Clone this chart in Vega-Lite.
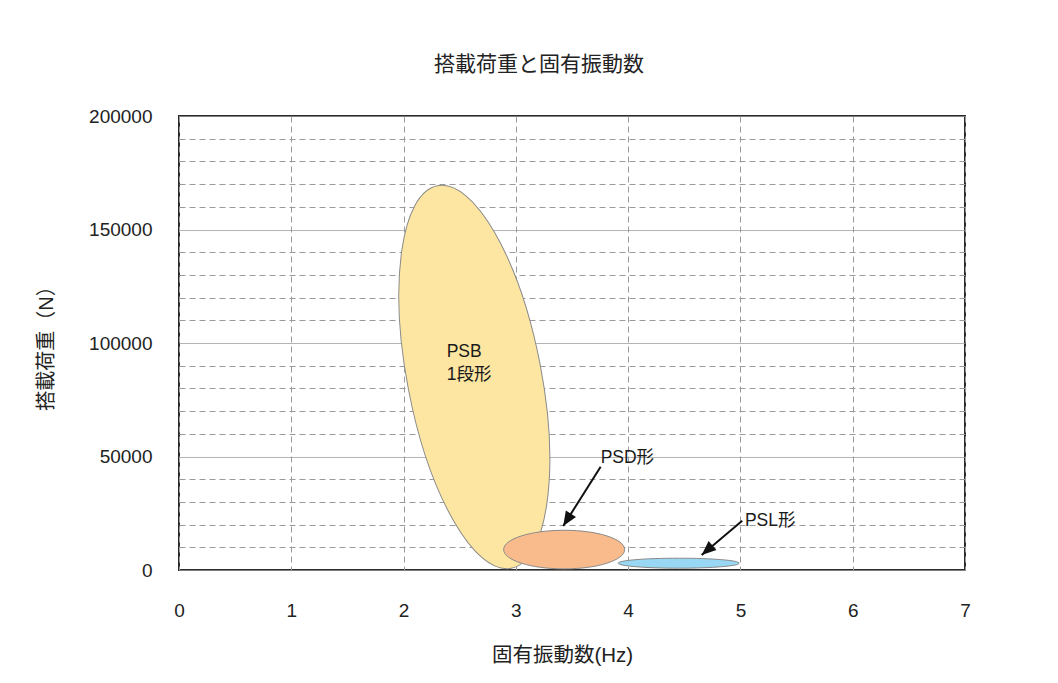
{
  "$schema": "https://vega.github.io/schema/vega-lite/v6.json",
  "width": 786,
  "height": 454,
  "autosize": {"type": "none"},
  "padding": {"left": 179, "top": 116, "right": 93, "bottom": 113},
  "background": "white",
  "config": {
    "font": "Liberation Sans, Noto Sans CJK JP, sans-serif",
    "view": {"stroke": "#2b2b2b", "strokeWidth": 2},
    "axis": {
      "labelFont": "Liberation Sans, Noto Sans CJK JP, sans-serif",
      "titleFont": "Liberation Sans, Noto Sans CJK JP, sans-serif",
      "labelColor": "#222",
      "titleColor": "#222",
      "titleFontWeight": "normal",
      "domain": false,
      "ticks": false,
      "tickSize": 0,
      "labelFlush": false,
      "labelOverlap": false,
      "labelBound": false,
      "gridColor": "#9a9a9a",
      "gridWidth": 1
    }
  },
  "title": {
    "text": "搭載荷重と固有振動数",
    "fontSize": 21,
    "fontWeight": "normal",
    "color": "#222",
    "font": "Noto Sans CJK JP, sans-serif",
    "offset": 32,
    "dx": -33
  },
  "datasets": {
    "ellipses": [
      {"type": "PSB", "freq": 2.63, "load": 85000},
      {"type": "PSD", "freq": 3.43, "load": 9000},
      {"type": "PSL", "freq": 4.45, "load": 3000}
    ],
    "arrows": [
      {"label": "PSD形", "freq": 3.755, "load": 45500, "freq2": 3.422, "load2": 19380},
      {"label": "PSL形", "freq": 5.016, "load": 21720, "freq2": 4.655, "load2": 6610}
    ],
    "labels": [
      {"text": "PSB\n1段形", "freq": 2.384, "load": 93700},
      {"text": "PSD形", "freq": 3.755, "load": 47140},
      {"text": "PSL形", "freq": 5.04, "load": 19380}
    ]
  },
  "encoding": {
    "x": {
      "field": "freq",
      "type": "quantitative",
      "scale": {"domain": [0, 7], "nice": false, "zero": false},
      "axis": {
        "values": [0, 1, 2, 3, 4, 5, 6, 7],
        "title": "固有振動数(Hz)",
        "titleFontSize": 20.5,
        "titlePadding": 25,
        "titleX": 383,
        "labelFontSize": 19,
        "labelPadding": 31,
        "grid": true,
        "gridDash": [6, 4]
      }
    },
    "y": {
      "field": "load",
      "type": "quantitative",
      "scale": {"domain": [0, 200000], "nice": false, "zero": true},
      "axis": {
        "values": [0, 10000, 20000, 30000, 40000, 50000, 60000, 70000, 80000, 90000, 100000, 110000, 120000, 130000, 140000, 150000, 160000, 170000, 180000, 190000, 200000],
        "labelExpr": "datum.value % 50000 === 0 ? format(datum.value, 'd') : ''",
        "title": "搭載荷重（N）",
        "titleFontSize": 20,
        "titlePadding": 32,
        "labelFontSize": 19,
        "labelPadding": 27,
        "grid": true,
        "gridDash": {"condition": {"test": "datum.value % 50000 === 0", "value": [1, 0]}, "value": [6, 4]}
      }
    }
  },
  "layer": [
    {
      "data": {"name": "ellipses"},
      "transform": [{"filter": "datum.type === 'PSB'"}],
      "mark": {
        "type": "point",
        "filled": true,
        "opacity": 1,
        "fill": "#fde6a2",
        "stroke": "#8a8a8a",
        "strokeWidth": 1,
        "shape": "M0,-1 C0.19,-1 0.344,-0.5523 0.344,0 C0.344,0.5523 0.19,1 0,1 C-0.19,1 -0.344,0.5523 -0.344,0 C-0.344,-0.5523 -0.19,-1 0,-1 Z",
        "size": 151788,
        "angle": 349.1
      }
    },
    {
      "data": {"name": "ellipses"},
      "transform": [{"filter": "datum.type === 'PSD'"}],
      "mark": {
        "type": "point",
        "filled": true,
        "opacity": 1,
        "fill": "#f9bb8b",
        "stroke": "#8a8a8a",
        "strokeWidth": 1,
        "shape": "M-1,0 C-1,-0.176 -0.5523,-0.319 0,-0.319 C0.5523,-0.319 1,-0.176 1,0 C1,0.176 0.5523,0.319 0,0.319 C-0.5523,0.319 -1,0.176 -1,0 Z",
        "size": 14641
      }
    },
    {
      "data": {"name": "ellipses"},
      "transform": [{"filter": "datum.type === 'PSL'"}],
      "mark": {
        "type": "point",
        "filled": true,
        "opacity": 1,
        "fill": "#98d8f4",
        "stroke": "#8a8a8a",
        "strokeWidth": 1,
        "shape": "M-1,0 C-1,-0.0456 -0.5523,-0.0826 0,-0.0826 C0.5523,-0.0826 1,-0.0456 1,0 C1,0.0456 0.5523,0.0826 0,0.0826 C-0.5523,0.0826 -1,0.0456 -1,0 Z",
        "size": 14641
      }
    },
    {
      "data": {"name": "arrows"},
      "mark": {"type": "rule", "color": "#111", "strokeWidth": 2},
      "encoding": {
        "x2": {"field": "freq2"},
        "y2": {"field": "load2"}
      }
    },
    {
      "data": {"name": "arrows"},
      "transform": [{"filter": "datum.label === 'PSD形'"}],
      "mark": {
        "type": "point",
        "filled": true,
        "opacity": 1,
        "color": "#111",
        "shape": "M0,0 L0.5,1.2 L-0.5,1.2 Z",
        "size": 576,
        "angle": 212.2
      },
      "encoding": {
        "x": {"field": "freq2", "type": "quantitative"},
        "y": {"field": "load2", "type": "quantitative"}
      }
    },
    {
      "data": {"name": "arrows"},
      "transform": [{"filter": "datum.label === 'PSL形'"}],
      "mark": {
        "type": "point",
        "filled": true,
        "opacity": 1,
        "color": "#111",
        "shape": "M0,0 L0.5,1.2 L-0.5,1.2 Z",
        "size": 576,
        "angle": 228.8
      },
      "encoding": {
        "x": {"field": "freq2", "type": "quantitative"},
        "y": {"field": "load2", "type": "quantitative"}
      }
    },
    {
      "data": {"name": "labels"},
      "mark": {
        "type": "text",
        "align": "left",
        "baseline": "alphabetic",
        "fontSize": 17.5,
        "lineBreak": "\n",
        "lineHeight": 23,
        "color": "#1a1a1a",
        "font": "Liberation Sans, Noto Sans CJK JP, sans-serif"
      },
      "encoding": {
        "text": {"field": "text"}
      }
    }
  ]
}
